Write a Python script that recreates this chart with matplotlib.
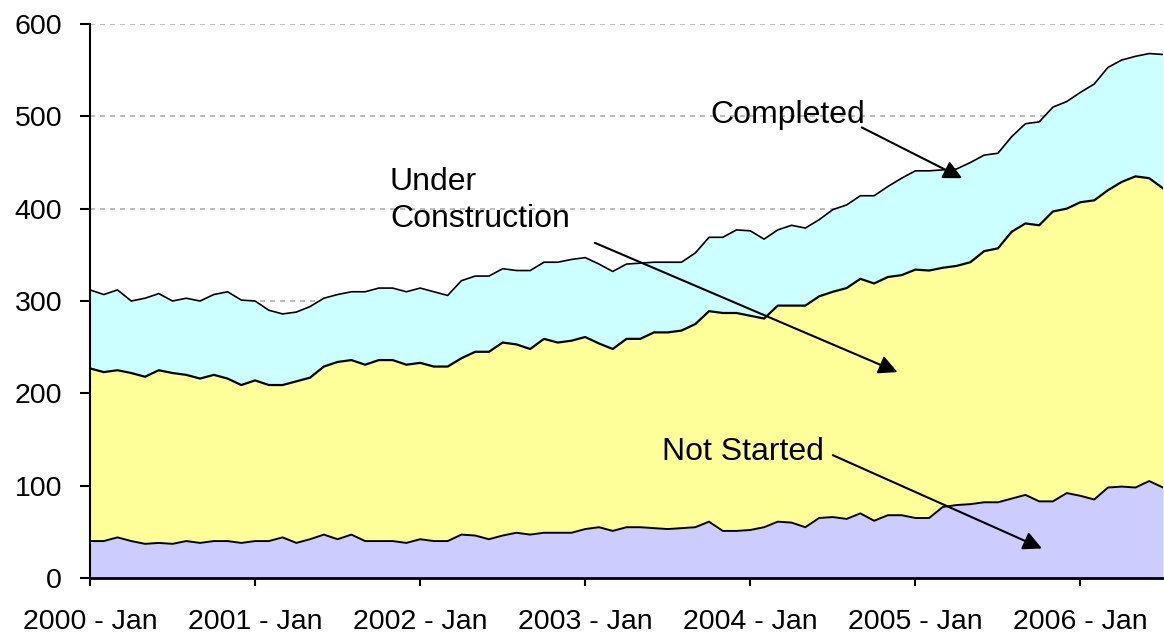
import matplotlib.pyplot as plt
import numpy as np

plt.rcParams['font.family'] = ['Liberation Sans', 'DejaVu Sans']

# Monthly data, 2000 - Jan to 2006 - Jul
not_started = [40, 40, 44, 40, 37, 38, 37, 40, 38, 40, 40, 38, 40, 40, 44, 38, 42, 47, 42, 47, 40,
               40, 40, 38, 42, 40, 40, 47, 46, 42, 46, 49, 47, 49, 49, 49, 53, 55, 51, 55, 55,
               54, 53, 54, 55, 61, 51, 51, 52, 55, 61, 60, 55, 65, 66, 64, 70, 62, 68, 68,
               65, 65, 77, 79, 80, 82, 82, 86, 90, 83, 83, 92, 89, 85, 98, 99, 98, 105, 98]

under_construction = [187, 183, 181, 182, 181, 187, 185, 180, 178, 180, 176, 171, 174, 169, 165, 175, 175, 182, 192, 189, 191,
                      196, 196, 193, 191, 189, 189, 191, 199, 203, 209, 204, 201, 210, 206, 208, 208, 199, 197, 204, 204,
                      212, 213, 214, 220, 228, 236, 236, 232, 226, 234, 235, 240, 240, 244, 250, 254, 257, 258, 260,
                      269, 268, 259, 259, 262, 272, 275, 289, 294, 299, 314, 308, 318, 324, 322, 330, 337, 328, 324]

completed = [85, 84, 87, 78, 85, 83, 78, 83, 84, 87, 94, 92, 86, 81, 77, 75, 77, 74, 73, 74, 79,
             78, 78, 79, 81, 81, 77, 84, 82, 82, 80, 80, 85, 83, 87, 88, 86, 86, 84, 81, 82,
             76, 76, 74, 77, 80, 82, 90, 92, 86, 82, 87, 84, 83, 89, 90, 90, 95, 98, 105,
             107, 108, 106, 105, 108, 104, 103, 103, 108, 112, 113, 116, 119, 126, 133, 132, 130, 135, 145]

tick_labels = ["2000 - Jan", "2001 - Jan", "2002 - Jan", "2003 - Jan",
               "2004 - Jan", "2005 - Jan", "2006 - Jan"]

months = np.arange(len(not_started))
ns = np.array(not_started)
uc = ns + np.array(under_construction)
tot = uc + np.array(completed)

fig = plt.figure(figsize=(11.64, 6.38), dpi=100)
ax = fig.add_axes([90 / 1164, 60 / 638, 1073 / 1164, 554 / 638])

ax.fill_between(months, 0, ns, color='#CCCCFF', lw=0, zorder=2)
ax.fill_between(months, ns, uc, color='#FFFF99', lw=0, zorder=2)
ax.fill_between(months, uc, tot, color='#CCFFFF', lw=0, zorder=2)
ax.plot(months, ns, color='black', lw=1.4, zorder=3)
ax.plot(months, uc, color='black', lw=1.6, zorder=3)
ax.plot(months, tot, color='black', lw=1.2, zorder=3)

ax.set_xlim(0, len(months) - 1)
ax.set_ylim(0, 600)
ax.set_yticks(range(0, 601, 100))
ax.set_xticks(range(0, len(months), 12))
ax.set_xticklabels(tick_labels)

ax.grid(axis='y', color='#B0B0B0', linestyle=(0, (3, 3)), lw=1.2, zorder=1)
ax.set_axisbelow(True)
for s in ['top', 'right']:
    ax.spines[s].set_visible(False)
ax.spines['left'].set_linewidth(1.5)
ax.spines['bottom'].set_linewidth(2)
ax.spines['left'].set_zorder(4)
ax.spines['bottom'].set_zorder(4)
ax.tick_params(axis='y', length=7, width=1.5, pad=13, labelsize=20.5)
ax.tick_params(axis='x', length=6, width=1.5, pad=16, labelsize=20.5)

arrow = dict(arrowstyle='-|>', color='black', lw=1.5, mutation_scale=28,
             shrinkA=0, shrinkB=0)
ax.annotate("", xy=(63.4, 433), xytext=(56.1, 488), arrowprops=arrow, zorder=5)
ax.annotate("", xy=(58.7, 223), xytext=(36.7, 363), arrowprops=arrow, zorder=5)
ax.annotate("", xy=(69.2, 32), xytext=(54.0, 133), arrowprops=arrow, zorder=5)

ax.text(45.1, 501, "Completed", fontsize=23, ha='left', va='center', zorder=5)
ax.text(21.8, 409, "Under\nConstruction", fontsize=23, ha='left', va='center',
        linespacing=1.28, zorder=5)
ax.text(41.6, 137, "Not Started", fontsize=23, ha='left', va='center', zorder=5)

fig.savefig("out.png", dpi=100)
